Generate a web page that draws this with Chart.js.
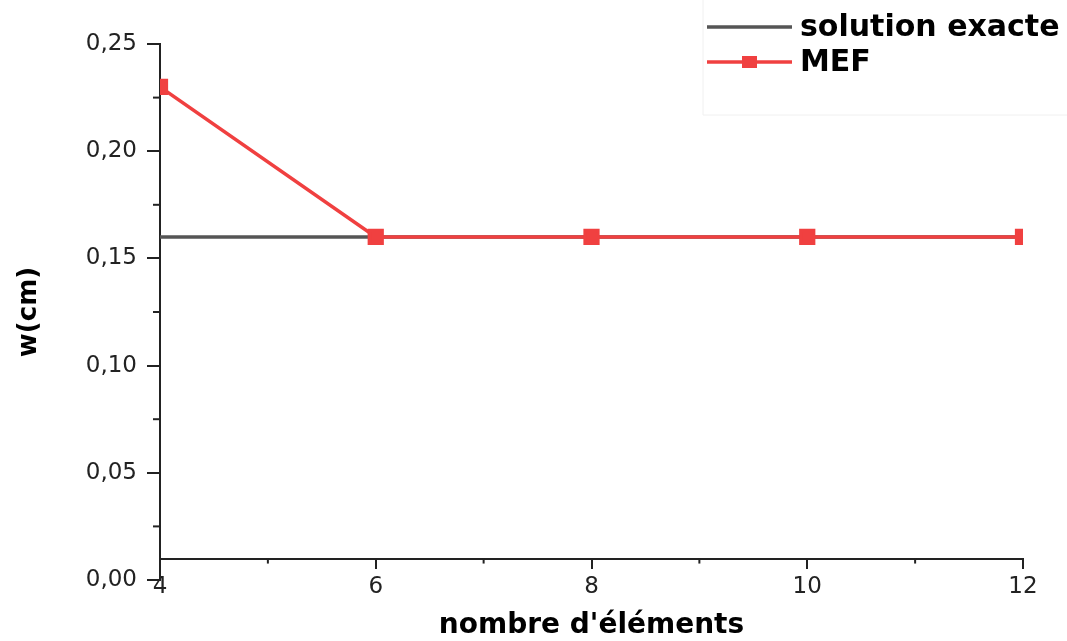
<!DOCTYPE html>
<html>
<head>
<meta charset="utf-8">
<script src="https://cdn.jsdelivr.net/npm/chart.js@4"></script>
<style>
  html, body { margin: 0; padding: 0; background: #fff; }
  #wrap { width: 1067px; height: 641px; }
</style>
</head>
<body>
<div id="wrap"><canvas id="convChart" width="1067" height="641"></canvas></div>
<script>
// nombre d'éléments
var elements = [4, 6, 8, 10, 12];
// solution exacte (valeur constante)
var exacte = [0.16, 0.16, 0.16, 0.16, 0.16];
// résultats MEF
var mef = [0.23, 0.16, 0.16, 0.16, 0.16];

var xMinorTicks = [5, 7, 9, 11];
var yMinorTicks = [0.025, 0.075, 0.125, 0.175, 0.225];

var axisColor = '#222';
var redColor = 'rgb(240, 64, 64)';
var greyColor = '#555';

function toPoints(xs, ys) {
    return xs.map(function (x, i) { return { x: x, y: ys[i] }; });
}

// petites graduations secondaires
var minorTicks = {
    id: 'minorTicks',
    afterDraw: function (chart) {
        var c = chart.ctx, xs = chart.scales.x, ys = chart.scales.y;
        var axisY = ys.getPixelForValue(0.01);
        c.save();
        c.strokeStyle = axisColor;
        c.lineWidth = 2;
        xMinorTicks.forEach(function (v) {
            var px = xs.getPixelForValue(v);
            c.beginPath(); c.moveTo(px, axisY); c.lineTo(px, axisY + 5); c.stroke();
        });
        yMinorTicks.forEach(function (v) {
            var py = ys.getPixelForValue(v);
            c.beginPath(); c.moveTo(chart.chartArea.left, py); c.lineTo(chart.chartArea.left - 7, py); c.stroke();
        });
        c.restore();
    }
};

// légende en haut à droite
var cornerLegend = {
    id: 'cornerLegend',
    afterDraw: function (chart) {
        var c = chart.ctx;
        c.save();
        c.strokeStyle = '#f0f0f0';
        c.lineWidth = 1;
        c.beginPath(); c.moveTo(703, 0); c.lineTo(703, 115); c.lineTo(1067, 115); c.stroke();
        c.font = 'bold 30px "DejaVu Sans"';
        c.textBaseline = 'middle';
        chart.data.datasets.forEach(function (ds, i) {
            var y = 27 + i * 35;
            c.strokeStyle = ds.borderColor;
            c.lineWidth = 3.5;
            c.beginPath(); c.moveTo(707, y); c.lineTo(792, y); c.stroke();
            if (ds.pointRadius > 0) {
                c.fillStyle = ds.pointBackgroundColor;
                c.fillRect(742, y - 6, 15, 12);
            }
            c.fillStyle = '#000';
            c.fillText(ds.label, 800, y + 1);
        });
        c.restore();
    }
};

var ctx = document.getElementById('convChart').getContext('2d');
var convChart = new Chart(ctx, {
    type: 'line',
    data: {
        datasets: [{
            label: 'solution exacte',
            data: toPoints(elements, exacte),
            borderColor: greyColor,
            borderWidth: 3.5,
            pointRadius: 0,
            order: 2,
            clip: 0
        }, {
            label: 'MEF',
            data: toPoints(elements, mef),
            borderColor: redColor,
            backgroundColor: redColor,
            pointBackgroundColor: redColor,
            pointBorderColor: redColor,
            borderWidth: 3.5,
            pointStyle: 'rect',
            pointRadius: 9,
            order: 1,
            clip: 0
        }]
    },
    options: {
        responsive: false,
        animation: false,
        layout: { padding: { top: 44, right: 44, bottom: 61, left: 0 } },
        plugins: {
            legend: { display: false },
            tooltip: { enabled: false }
        },
        scales: {
            x: {
                type: 'linear',
                position: { y: 0.01 },
                min: 4,
                max: 12,
                grid: { drawOnChartArea: false, color: axisColor, lineWidth: 2, tickLength: 9 },
                border: { color: axisColor, width: 2 },
                ticks: {
                    stepSize: 2,
                    padding: 6,
                    color: '#222',
                    font: { family: 'DejaVu Sans', size: 23 }
                },
                title: {
                    display: true,
                    text: "nombre d'éléments",
                    color: '#000',
                    font: { family: 'DejaVu Sans', size: 28, weight: 'bold' },
                    padding: { top: 2, bottom: 0 }
                }
            },
            y: {
                min: 0,
                max: 0.25,
                afterFit: function (scale) { scale.width = 160; },
                grid: { drawOnChartArea: false, color: axisColor, lineWidth: 2, tickLength: 13 },
                border: { color: axisColor, width: 2 },
                ticks: {
                    stepSize: 0.05,
                    padding: 10,
                    color: '#222',
                    font: { family: 'DejaVu Sans', size: 23 },
                    callback: function (v) { return v.toFixed(2).replace('.', ','); }
                },
                title: {
                    display: true,
                    text: 'w(cm)',
                    color: '#000',
                    font: { family: 'DejaVu Sans', size: 26, weight: 'bold' },
                    padding: { top: 14, bottom: 0 }
                }
            }
        }
    },
    plugins: [minorTicks, cornerLegend]
});
</script>
</body>
</html>
